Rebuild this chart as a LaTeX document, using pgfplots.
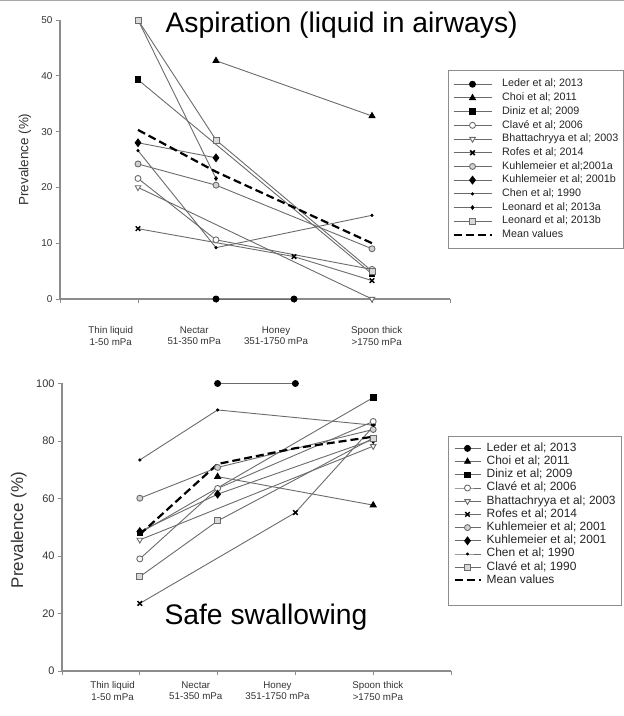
\documentclass[border=0pt]{standalone}
\usepackage{fontspec}
\setmainfont{Liberation Sans}
\usepackage{pgfplots}
\pgfplotsset{compat=1.18}

\definecolor{ln}{gray}{0.42}
\definecolor{ax}{gray}{0.55}

% marker styles
\tikzset{
  mLeder/.style={mark=*, mark size=3bp, mark options={solid, draw=black, fill=black}},
  mChoi/.style={mark=triangle*, mark size=3.4bp, mark options={solid, draw=black, fill=black}},
  mDiniz/.style={mark=square*, mark size=2.8bp, mark options={solid, draw=black, fill=black}},
  mClave/.style={mark=*, mark size=3bp, mark options={solid, draw=ln, fill=white, line width=0.9bp}},
  mBhat/.style={mark=triangle*, mark size=3.2bp, mark options={solid, rotate=180, draw=ln, fill=white, line width=0.9bp}},
  mRofes/.style={mark=x, mark size=3.2bp, mark options={solid, draw=black, line width=1.5bp}},
  mKuhlA/.style={mark=*, mark size=3bp, mark options={solid, draw=ln, fill=gray!35, line width=0.9bp}},
  mKuhlB/.style={mark=diamond*, mark size=3.8bp, mark options={solid, draw=black, fill=black}},
  mChen/.style={mark=*, mark size=1.1bp, mark options={solid, draw=black, fill=black}},
  mLeoA/.style={mark=diamond*, mark size=1.8bp, mark options={solid, draw=black, fill=black}},
  mLeoB/.style={mark=square*, mark size=3bp, mark options={solid, draw=ln, fill=gray!30, line width=0.9bp}},
  mMean/.style={black, line width=2.2bp, dash pattern=on 8bp off 4bp},
}

\pgfplotsset{
  pane/.style={scale only axis, clip=false, xmin=0, xmax=5,
    axis x line*=bottom, axis y line*=left,
    axis line style={ax, line width=1.3bp},
    tick style={ax, line width=0.8bp},
    tick align=outside, major tick length=4bp,
    xtick={0,...,5}, xticklabels={},
    extra x ticks={0.65,1.72,2.77,4.06},
    extra x tick labels={{Thin liquid\\1-50 mPa},{Nectar\\51-350 mPa},{Honey\\351-1750 mPa},{Spoon thick\\>1750 mPa}},
    extra x tick style={major tick length=0pt},
    /pgf/number format/assume math mode=true,
    yticklabel style={font=\fontsize{10}{12}\selectfont, text=black!80},
    ylabel={Prevalence (\%)},
    every axis plot/.append style={ln, line width=0.9bp},
    legend cell align=left,
  },
}

\begin{document}
\begin{tikzpicture}

% ---------------- top: aspiration ----------------
\begin{axis}[pane, at={(60bp,417bp)}, anchor=south west,
  width=390bp, height=279bp, ymin=0, ymax=50, ytick={0,10,...,50},
  xticklabel style={align=center, font=\fontsize{9.8}{11.5}\selectfont, yshift=-24bp, text=black!80},
  every axis y label/.style={at={(axis description cs:-0.09,0.5)}, rotate=90, anchor=center,
    font=\fontsize{13.5}{15}\selectfont, text=black!80},
  legend image code/.code={\draw[mark repeat=2,mark phase=2] plot coordinates {(0bp,0bp) (19bp,0bp) (38bp,0bp)};},
  legend style={at={(0.9949,0.8208)}, anchor=north west, draw=ax, line width=0.8bp,
    inner xsep=4bp, inner ysep=7bp, font=\fontsize{10.8}{13}\selectfont,
    nodes={text height=8bp, text depth=2.5bp, inner sep=1.6bp, text=black!85}, column sep=8bp, row sep=0pt}]
\addplot[mLeder] coordinates {(2,0) (3,0)};
\addlegendentry{Leder et al; 2013}
\addplot[mChoi] coordinates {(2,42.7) (4,32.8)};
\addlegendentry{Choi et al; 2011}
\addplot[mDiniz] coordinates {(1,39.3) (4,4.5)};
\addlegendentry{Diniz et al; 2009}
\addplot[mClave] coordinates {(1,21.6) (2,10.6) (4,5.3)};
\addlegendentry{Clavé et al; 2006}
\addplot[mBhat] coordinates {(1,20.0) (4,0)};
\addlegendentry{Bhattachryya et al; 2003}
\addplot[mRofes] coordinates {(1,12.6) (3,7.6) (4,3.3)};
\addlegendentry{Rofes et al; 2014}
\addplot[mKuhlA] coordinates {(1,24.2) (2,20.4) (4,9.0)};
\addlegendentry{Kuhlemeier et al;2001a}
\addplot[mKuhlB] coordinates {(1,28.0) (2,25.3)};
\addlegendentry{Kuhlemeier et al; 2001b}
\addplot[mChen] coordinates {(1,26.6) (2,9.2) (4,15.0)};
\addlegendentry{Chen et al; 1990}
\addplot[mLeoA] coordinates {(1,50) (2,21.6)};
\addlegendentry{Leonard et al; 2013a}
\addplot[mLeoB] coordinates {(1,50) (2,28.5) (4,5.0)};
\addlegendentry{Leonard et al; 2013b}
\addplot[mMean] coordinates {(1,30.3) (2,22.8) (3,16.4) (4,10.0)};
\addlegendentry{Mean values}
\end{axis}

% ---------------- bottom: safe swallowing ----------------
\begin{axis}[pane, at={(62bp,45bp)}, anchor=south west,
  width=389bp, height=287.5bp, ymin=0, ymax=100, ytick={0,20,...,100},
  yticklabel style={font=\fontsize{11}{12}\selectfont},
  xticklabel style={align=center, font=\fontsize{9.8}{11.5}\selectfont, yshift=-7bp, text=black!80},
  every axis y label/.style={at={(axis description cs:-0.111,0.49)}, rotate=90, anchor=center,
    font=\fontsize{17}{19}\selectfont, text=black!80},
  legend image code/.code={\draw[mark repeat=2,mark phase=2] plot coordinates {(0bp,0bp) (13bp,0bp) (26bp,0bp)};},
  legend style={at={(0.9923,0.8174)}, anchor=north west, draw=ax, line width=0.8bp,
    inner xsep=5bp, inner ysep=5.4bp, font=\fontsize{12}{13}\selectfont,
    nodes={text height=8.4bp, text depth=2.6bp, inner sep=1.1bp, text=black!85}, column sep=4bp, row sep=0pt}]
\addplot[mLeder] coordinates {(2,100) (3,100)};
\addlegendentry{Leder et al; 2013}
\addplot[mChoi] coordinates {(2,67.6) (4,57.7)};
\addlegendentry{Choi et al; 2011}
\addplot[mDiniz] coordinates {(1,48.0) (4,95.1)};
\addlegendentry{Diniz et al; 2009}
\addplot[mClave] coordinates {(1,39.0) (2,63.5) (4,86.8)};
\addlegendentry{Clavé et al; 2006}
\addplot[mBhat] coordinates {(1,45.6) (4,78.2)};
\addlegendentry{Bhattachryya et al; 2003}
\addplot[mRofes] coordinates {(1,23.5) (3,55.1) (4,85.0)};
\addlegendentry{Rofes et al; 2014}
\addplot[mKuhlA] coordinates {(1,60.1) (2,70.8) (4,84.0)};
\addlegendentry{Kuhlemeier et al; 2001}
\addplot[mKuhlB] coordinates {(1,48.5) (2,61.5) (4,80.5)};
\addlegendentry{Kuhlemeier et al; 2001}
\addplot[mChen] coordinates {(1,73.4) (2,90.8) (4,85.5)};
\addlegendentry{Chen et al; 1990}
\addplot[mLeoB] coordinates {(1,32.8) (2,52.2) (4,81.0)};
\addlegendentry{Clavé et al; 1990}
\addplot[mMean] coordinates {(1,47.5) (2,72.0) (3,77.5) (4,81.5)};
\addlegendentry{Mean values}
\addlegendimage{empty legend}
\addlegendentry{}
\end{axis}

\node[anchor=base west, font=\fontsize{28.4}{32}\selectfont] at (162bp,683bp) {Aspiration (liquid in airways)};
\node[anchor=base west, font=\fontsize{28.4}{32}\selectfont] at (161bp,91bp) {Safe swallowing};
\draw[gray!70, line width=1bp] (0,715.5bp) -- (624bp,715.5bp);

\pgfresetboundingbox
\path (0,0) rectangle (624bp,716bp);
\end{tikzpicture}
\end{document}
